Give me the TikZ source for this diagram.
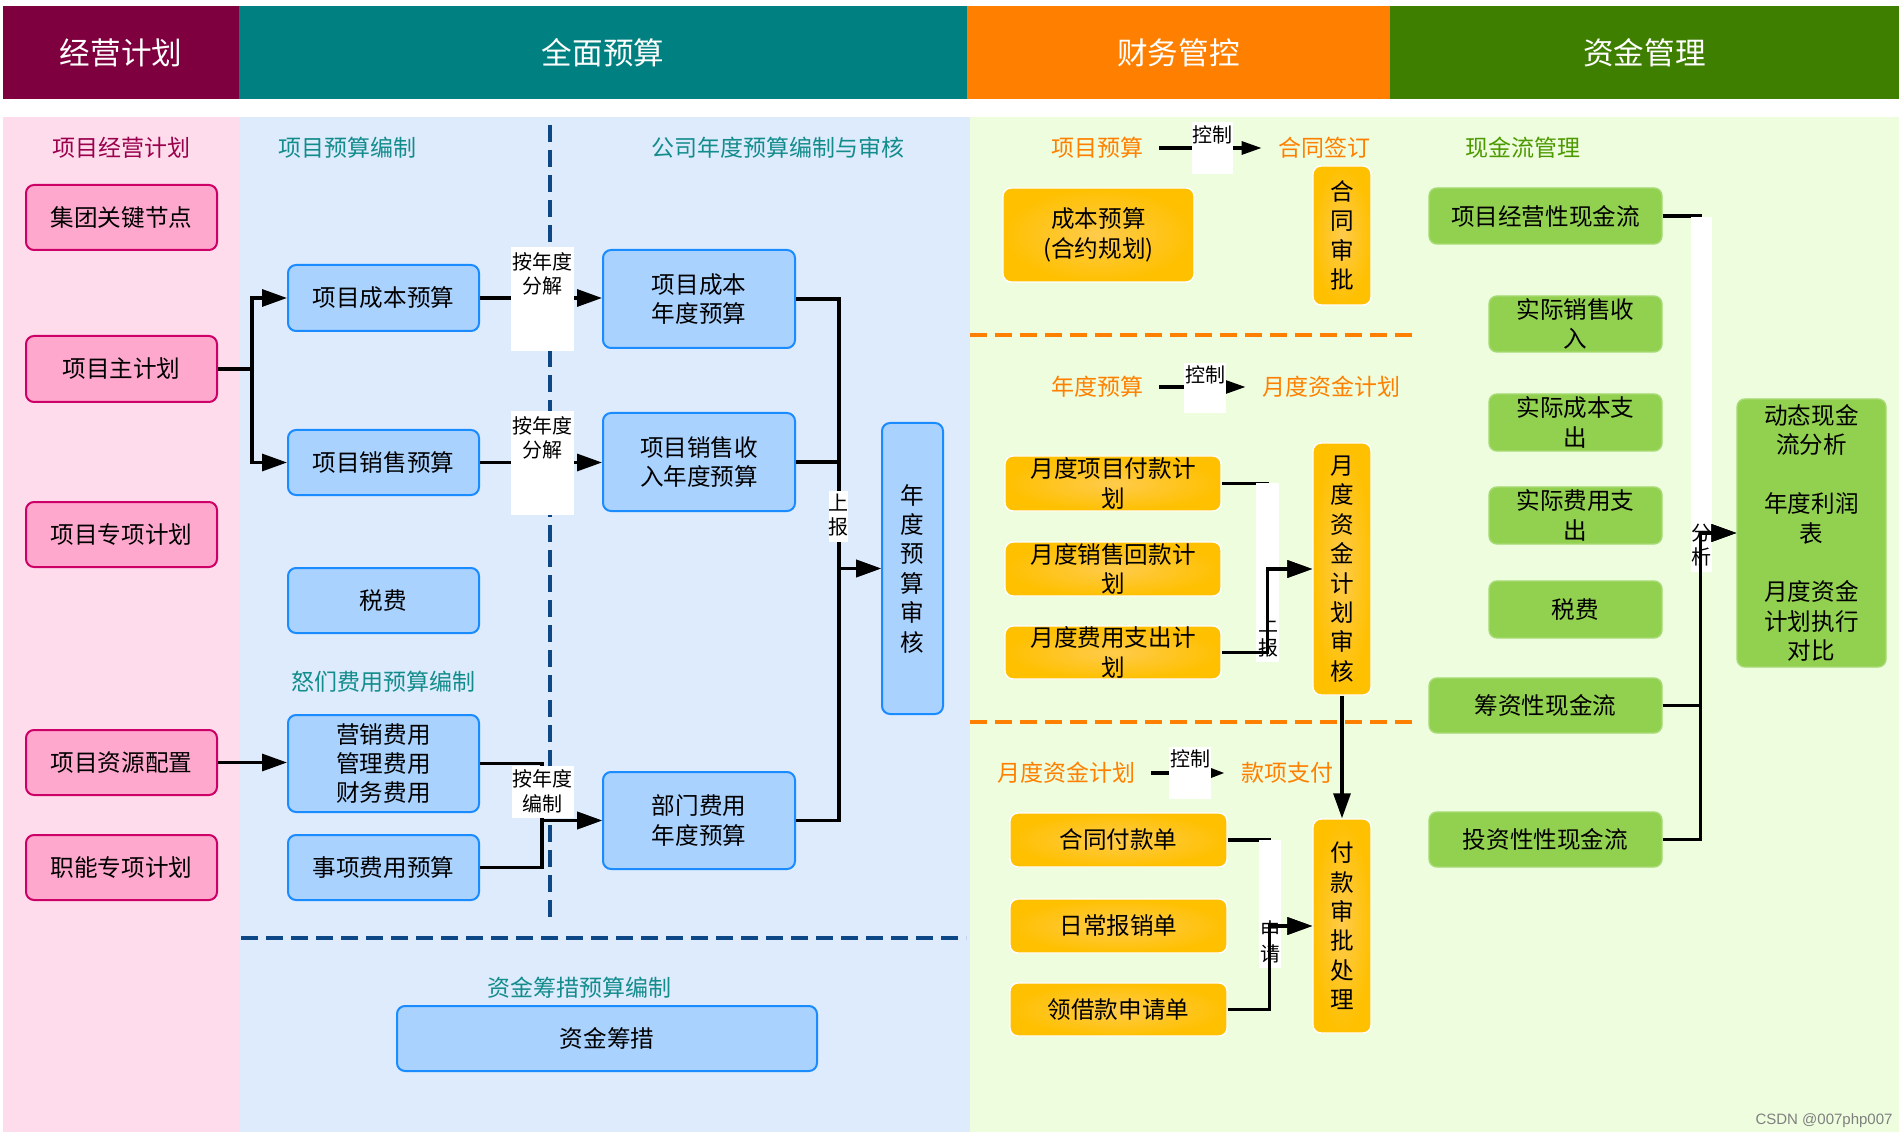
\documentclass[tikz,border=0pt]{standalone}
\usepackage{fontspec}
\setmainfont{Noto Sans CJK SC}
\newfontfamily\wmfont{Liberation Sans}
\usetikzlibrary{arrows.meta}

\definecolor{hdpurple}{HTML}{7F003F}
\definecolor{hdteal}{HTML}{008080}
\definecolor{hdorange}{HTML}{FF8000}
\definecolor{hdgreen}{HTML}{3F7F00}
\definecolor{bgpink}{HTML}{FFDCEC}
\definecolor{bgblue}{HTML}{DDEBFD}
\definecolor{bggreen}{HTML}{EDFDDD}
\definecolor{pinkfill}{HTML}{FFA8CE}
\definecolor{pinkline}{HTML}{CC0066}
\definecolor{bluefill}{HTML}{A9D2FF}
\definecolor{blueline}{HTML}{1A8CFF}
\definecolor{orgfill}{HTML}{FFC000}
\definecolor{orgmid}{HTML}{FFCB4C}
\definecolor{grnfill}{HTML}{92D050}
\definecolor{grnline}{HTML}{A6DA72}
\definecolor{ttlpink}{HTML}{99004D}
\definecolor{ttlteal}{HTML}{138C8C}
\definecolor{ttlorg}{HTML}{FF8000}
\definecolor{ttlgrn}{HTML}{4D9900}
\definecolor{sepblue}{HTML}{0D4785}

\tikzset{
  flowbox/.style={rounded corners=4pt, align=center, inner sep=0pt,
    font=\fontsize{11.8}{14.7}\selectfont},
  pinkbox/.style={flowbox, draw=pinkline, line width=1pt, fill=pinkfill,
    minimum width=95.5pt, minimum height=32.5pt},
  bluebox/.style={flowbox, draw=blueline, line width=1pt, fill=bluefill},
  orgbox/.style={flowbox, draw=white, line width=0.7pt, inner color=orgmid, outer color=orgfill},
  grnbox/.style={flowbox, draw=grnline, line width=0.7pt, fill=grnfill},
  hdr/.style={inner sep=0pt, text=white, font=\fontsize{15.3}{18}\selectfont,
    minimum height=46.5pt},
  coltitle/.style={inner sep=8pt, font=\fontsize{11.5}{14}\selectfont},
  tagbg/.style={fill=white, inner sep=0pt},
  tagtxt/.style={align=center, inner sep=0pt, font=\fontsize{10}{12.2}\selectfont},
  link/.style={line width=1.6pt, -{Triangle[length=12.5pt,width=8.5pt]}},
  stub/.style={line width=1.6pt},
  ctl/.style={line width=1.6pt, -{Triangle[length=10pt,width=6.5pt]}},
  sepline/.style={line width=1.6pt, dash pattern=on 8.5pt off 4pt},
}

\begin{document}
\begin{tikzpicture}[x=0.5pt, y=-0.5pt]
    \useasboundingbox (0,0) rectangle (1904,1138);
    % backgrounds and headers
    \fill[bgpink] (3,117) rectangle (240,1132);
    \fill[bgblue] (240,117) rectangle (970,1132);
    \fill[bggreen] (970,117) rectangle (1899,1132);
    \node[hdr, fill=hdpurple, minimum width=118pt] (hjy) at (121,52.5) {经营计划};
    \node[hdr, fill=hdteal, minimum width=364pt] (hqm) at (603,52.5) {全面预算};
    \node[hdr, fill=hdorange, minimum width=211.5pt] (hcw) at (1178.5,52.5) {财务管控};
    \node[hdr, fill=hdgreen, minimum width=254.5pt] (hzj) at (1644.5,52.5) {资金管理};
    \draw[sepline, draw=sepblue] (550,125) -- (550,923);
    \draw[sepline, draw=sepblue] (241,938) -- (966,938);
    \draw[sepline, draw=ttlorg] (970,335) -- (1412,335);
    \draw[sepline, draw=ttlorg] (970,722) -- (1412,722);

    % column titles
    \node[coltitle, text=ttlpink] (tjy) at (121,148) {项目经营计划};
    \node[coltitle, text=ttlteal] (tys) at (347,148) {项目预算编制};
    \node[coltitle, text=ttlteal] (tgs) at (778,148) {公司年度预算编制与审核};
    \node[coltitle, text=ttlteal] (tfy) at (383,682) {怒们费用预算编制};
    \node[coltitle, text=ttlteal] (tzj) at (579,988) {资金筹措预算编制};
    \node[coltitle, text=ttlorg] (txmys) at (1097,148) {项目预算};
    \node[coltitle, text=ttlorg] (thtqd) at (1324,148) {合同签订};
    \node[coltitle, text=ttlorg] (tndys) at (1097,387) {年度预算};
    \node[coltitle, text=ttlorg] (tydzj) at (1331,387) {月度资金计划};
    \node[coltitle, text=ttlorg] (tydzj2) at (1066,773) {月度资金计划};
    \node[coltitle, text=ttlorg] (tkxzf) at (1287,773) {款项支付};
    \node[coltitle, text=ttlgrn] (txjl) at (1523,148) {现金流管理};

    % 经营计划
    \node[pinkbox] (jtgj) at (121.5,217.5) {集团关键节点};
    \node[pinkbox, minimum height=33pt] (xmzjh) at (121.5,369) {项目主计划};
    \node[pinkbox] (xmzx) at (121.5,534.5) {项目专项计划};
    \node[pinkbox] (xmzy) at (121.5,762.5) {项目资源配置};
    \node[pinkbox] (znzx) at (121.5,867.5) {职能专项计划};

    % 全面预算
    \node[bluebox, minimum width=95.5pt, minimum height=33pt] (xmcb) at (383.5,298) {项目成本预算};
    \node[bluebox, minimum width=95.5pt, minimum height=32.5pt] (xmxs) at (383.5,462.5) {项目销售预算};
    \node[bluebox, minimum width=95.5pt, minimum height=32.5pt] (shuifei) at (383.5,600.5) {税费};
    \node[bluebox, minimum width=95.5pt, minimum height=48.5pt] (sanfei) at (383.5,763.5) {营销费用\\管理费用\\财务费用};
    \node[bluebox, minimum width=95.5pt, minimum height=32.5pt] (sxfy) at (383.5,867.5) {事项费用预算};
    \node[bluebox, minimum width=96pt, minimum height=49pt] (cbnd) at (699,299) {项目成本\\年度预算};
    \node[bluebox, minimum width=96pt, minimum height=49pt] (xsnd) at (699,462) {项目销售收\\入年度预算};
    \node[bluebox, minimum width=96pt, minimum height=48.5pt] (bmnd) at (699,820.5) {部门费用\\年度预算};
    \node[bluebox, minimum width=30.5pt, minimum height=145.5pt] (ndsh) at (912.5,568.5) {年\\度\\预\\算\\审\\核};
    \node[bluebox, minimum width=210pt, minimum height=32.5pt] (zjcc) at (607,1038.5) {资金筹措};

    % 财务管控
    \node[orgbox, minimum width=95.5pt, minimum height=47pt] (cbys) at (1098.5,235) {成本预算\\(合约规划)};
    \node[orgbox, minimum width=29pt, minimum height=69.5pt] (htsp) at (1342,235.5) {合\\同\\审\\批};
    \node[orgbox, minimum width=108pt, minimum height=27.5pt] (ydfk) at (1113,483.5) {月度项目付款计\\划};
    \node[orgbox, minimum width=108pt, minimum height=27pt] (ydhk) at (1113,569) {月度销售回款计\\划};
    \node[orgbox, minimum width=108pt, minimum height=26.5pt] (ydfy) at (1113,652.5) {月度费用支出计\\划};
    \node[orgbox, minimum width=29pt, minimum height=126pt] (ydsh) at (1342,569) {月\\度\\资\\金\\计\\划\\审\\核};
    \node[orgbox, minimum width=108.5pt, minimum height=27pt] (htfk) at (1118.5,840) {合同付款单};
    \node[orgbox, minimum width=108.5pt, minimum height=27pt] (rcbx) at (1118.5,926) {日常报销单};
    \node[orgbox, minimum width=108.5pt, minimum height=26.5pt] (ljk) at (1118.5,1009.5) {领借款申请单};
    \node[orgbox, minimum width=29pt, minimum height=107pt] (fksp) at (1342,926) {付\\款\\审\\批\\处\\理};

    % 资金管理
    \node[grnbox, minimum width=116.5pt, minimum height=28pt] (jyxxj) at (1545.5,216) {项目经营性现金流};
    \node[grnbox, minimum width=86.5pt, minimum height=28pt] (sjxs) at (1575.5,324) {实际销售收\\入};
    \node[grnbox, minimum width=86.5pt, minimum height=28.5pt] (sjcb) at (1575.5,422.5) {实际成本支\\出};
    \node[grnbox, minimum width=86.5pt, minimum height=28.5pt] (sjfy) at (1575.5,515.5) {实际费用支\\出};
    \node[grnbox, minimum width=86.5pt, minimum height=28.5pt] (sfg) at (1575.5,609.5) {税费};
    \node[grnbox, minimum width=116.5pt, minimum height=27.5pt] (czxxj) at (1545.5,705.5) {筹资性现金流};
    \node[grnbox, minimum width=116.5pt, minimum height=27.5pt] (tzxxj) at (1545.5,839.5) {投资性性现金流};
    \node[grnbox, minimum width=74.5pt, minimum height=134pt] (dtfx) at (1811.5,533)
        {动态现金\\流分析\\[14.7pt]年度利润\\表\\[14.7pt]月度资金\\计划执行\\对比};

    % 预算连线
    \draw[link] (xmzjh.east) -- ++(34,0) |- (xmcb.west);
    \draw[link] (xmzjh.east) -- ++(34,0) |- (xmxs.west);
    \draw[link] (xmcb.east) -- (xmcb.east -| cbnd.west);
    \draw[link] (xmxs.east) -- (xmxs.east -| xsnd.west);
    \draw[link] (xmzy.east) -- (xmzy.east -| sanfei.west);
    \draw[link] (sanfei.east) -- ++(62,0) |- (bmnd.west);
    \draw[link] (sxfy.east) -- ++(62,0) |- (bmnd.west);
    \draw[link] (cbnd.east) -- ++(43,0) |- (ndsh.west);
    \draw[stub] (xsnd.east) -- ++(43,0);
    \draw[link] (bmnd.east) -- ++(43,0) |- (ndsh.west);
    \node[tagbg, minimum width=31.5pt, minimum height=52pt] (fjbg1) at (542.5,299) {};
    \node[tagtxt] (fj1) at (542.5,274) {按年度\\分解};
    \node[tagbg, minimum width=31.5pt, minimum height=52pt] (fjbg2) at (542.5,463) {};
    \node[tagtxt] (fj2) at (542.5,438) {按年度\\分解};
    \node[tagbg, minimum width=31pt, minimum height=26pt] (bzbg) at (542.5,792) {};
    \node[tagtxt] (bz) at (542.5,791.5) {按年度\\编制};
    \node[tagbg, minimum width=9.5pt, minimum height=25.5pt] (sbbg1) at (838.5,516.5) {};
    \node[tagtxt] (sb1) at (838.5,515) {上\\报};

    % 控制
    \draw[ctl] (txmys.east) -- (thtqd.west);
    \node[tagbg, minimum width=20.5pt, minimum height=26pt] (kzbg1) at (1212.5,148) {};
    \node[tagtxt] (kz1) at (1212.5,135) {控制};
    \draw[ctl] (tndys.east) -- (tydzj.west);
    \node[tagbg, minimum width=21pt, minimum height=25pt] (kzbg2) at (1205,388) {};
    \node[tagtxt] (kz2) at (1205,375) {控制};
    \draw[line width=1.6pt, -{Triangle[length=7.5pt,width=5pt]}] (tydzj2.east) -- (tkxzf.west);
    \node[tagbg, minimum width=21pt, minimum height=26pt] (kzbg3) at (1190,773) {};
    \node[tagtxt] (kz3) at (1190,759) {控制};

    % 月度计划与付款
    \draw[link] (ydfk.east) -- ++(46,0) |- (ydsh.west);
    \node[tagbg, minimum width=11.5pt, minimum height=89.5pt] (sbbg2) at (1267.5,572.5) {};
    \node[tagtxt] (sb2) at (1268,636) {上\\报};
    \draw[link] (ydfy.east) -- ++(46,0) |- (ydsh.west);
    \draw[link] (ydsh.south) -- (fksp.north);
    \draw[link] (htfk.east) -- ++(42,0) |- (fksp.west);
    \node[tagbg, minimum width=11pt, minimum height=64pt] (sqbg) at (1270,904) {};
    \node[tagtxt] (sq) at (1270,942) {申\\请};
    \draw[link] (ljk.east) -- ++(42,0) |- (fksp.west);

    % 现金流
    \draw[link] (jyxxj.east) -- ++(38,0) |- (dtfx.west);
    \node[tagbg, minimum width=10.5pt, minimum height=177.5pt] (fxbg) at (1701.5,394.5) {};
    \node[tagtxt] (fx) at (1701,545) {分\\析};
    \draw[link] (czxxj.east) -- ++(38,0) |- (dtfx.west);
    \draw[link] (tzxxj.east) -- ++(38,0) |- (dtfx.west);

    \node[text=gray, font=\wmfont\fontsize{7.5}{9}\selectfont, inner sep=0pt] (wm) at (1824,1121) {CSDN @007php007};
\end{tikzpicture}
\end{document}
